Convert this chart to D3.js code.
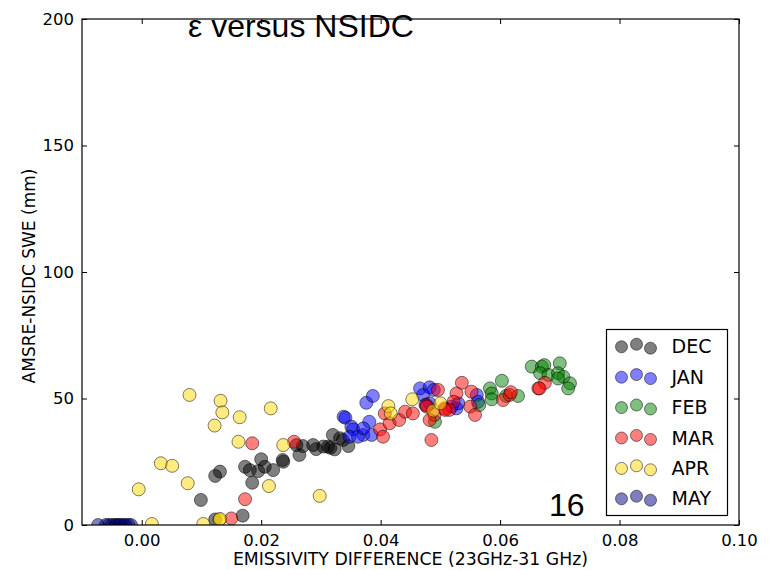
<!DOCTYPE html>
<html>
<head>
	<meta charset="utf-8">
	<script src="https://cdnjs.cloudflare.com/ajax/libs/d3/7.8.5/d3.min.js"></script>
	<style>
	body {
		margin: 0;
		background: #fff;
	}

	.tick-label {
		font: 16.5px "DejaVu Sans", sans-serif;
		fill: #000;
	}

	.dot {
		fill-opacity: 0.5;
		stroke: #000;
		stroke-opacity: 0.5;
		stroke-width: 1px;
	}
</style>
</head>
<body>
	<svg width="771" height="570"></svg>
	<script>
	//data: [emissivity difference, swe]
	let decData = [
		[0.0099, 9.9], [0.0131, 21.1], [0.0123, 19.4], [0.0123, 2.2], [0.0169, 3.7],
		[0.0173, 23.0], [0.0181, 21.7], [0.0195, 21.3], [0.0200, 26.0], [0.0206, 23.0],
		[0.0220, 21.7], [0.0185, 16.7], [0.0237, 25.0], [0.0236, 25.7], [0.0264, 27.7],
		[0.0270, 31.2], [0.0287, 31.6], [0.0304, 31.0], [0.0312, 31.0], [0.0323, 29.9],
		[0.0320, 35.6], [0.0337, 33.6], [0.0346, 31.2], [0.0259, 31.6], [0.0292, 30.0],
		[0.0316, 30.5], [0.0332, 34.3]
	];
	let janData = [
		[0.0338, 42.8], [0.0341, 42.4], [0.0351, 38.9], [0.0354, 37.8], [0.0348, 34.9],
		[0.0371, 35.6], [0.0381, 40.8], [0.0385, 35.6], [0.0376, 48.3], [0.0387, 51.0],
		[0.0466, 54.0], [0.0482, 54.4], [0.0471, 51.4], [0.0482, 48.1], [0.0489, 53.4],
		[0.0527, 46.1], [0.0561, 51.4], [0.0563, 48.7], [0.0475, 47.5], [0.0362, 34.9],
		[0.0371, 38.2], [0.0519, 46.8], [0.0530, 48.1]
	];
	let febData = [
		[0.0583, 54.0], [0.0603, 57.0], [0.0586, 52.0], [0.0586, 49.7], [0.0630, 51.0],
		[0.0653, 62.6], [0.0670, 62.6], [0.0674, 63.2], [0.0667, 60.0], [0.0681, 59.3],
		[0.0700, 63.9], [0.0697, 60.0], [0.0706, 58.6], [0.0697, 57.9], [0.0717, 56.0],
		[0.0714, 54.0], [0.0491, 40.8], [0.0565, 47.4], [0.0610, 51.0]
	];
	let marData = [
		[0.0185, 32.3], [0.0173, 10.2], [0.0150, 2.6], [0.0255, 32.9], [0.0399, 37.8],
		[0.0404, 34.9], [0.0407, 44.1], [0.0415, 40.2], [0.0431, 41.5], [0.0441, 44.8],
		[0.0454, 44.1], [0.0477, 47.4], [0.0496, 53.4], [0.0485, 33.6], [0.0490, 43.5],
		[0.0507, 46.1], [0.0536, 56.2], [0.0552, 52.7], [0.0550, 46.8], [0.0558, 43.5],
		[0.0527, 52.0], [0.0522, 48.7], [0.0515, 45.5], [0.0508, 45.5], [0.0477, 46.8],
		[0.0482, 41.5], [0.0605, 49.4], [0.0616, 51.4], [0.0664, 54.0], [0.0675, 56.2],
		[0.0666, 54.0], [0.0618, 52.5]
	];
	let aprData = [
		[0.0080, 51.4], [0.0132, 49.1], [0.0135, 44.5], [0.0122, 39.3], [0.0032, 24.4],
		[0.0051, 23.4], [0.0077, 16.5], [-0.0005, 14.1], [0.0017, 0.4], [0.0103, 0.4],
		[0.0130, 2.0], [0.0164, 42.6], [0.0216, 46.1], [0.0162, 32.9], [0.0237, 31.6],
		[0.0213, 15.4], [0.0298, 11.5], [0.0131, 2.4], [0.0413, 47.0], [0.0417, 44.1],
		[0.0453, 49.7], [0.0488, 45.2], [0.0500, 48.1]
	];
	let mayData = [
		[-0.0073, 0], [-0.0060, 0], [-0.0055, 0], [-0.0050, 0], [-0.0045, 0],
		[-0.0042, 0], [-0.0038, 0], [-0.0035, 0], [-0.0030, 0], [-0.0027, 0],
		[-0.0022, 0], [-0.0018, 0]
	];

	let months = ["DEC", "JAN", "FEB", "MAR", "APR", "MAY"];
	let monthColors = ["#000000", "#0000ff", "#008000", "#ff0000", "#ffd700", "#000080"];
	let xTicks = [0.00, 0.02, 0.04, 0.06, 0.08, 0.10];
	let yTicks = [0, 50, 100, 150, 200];

	let series = [decData, janData, febData, marData, aprData, mayData];

	//define chart margins
	let svg = d3.select("svg"),
		margin = {top: 19, right: 32, bottom: 45, left: 82},
		width = svg.attr("width") - margin.left - margin.right,
		height = svg.attr("height") - margin.top - margin.bottom,
		g = svg.append("g").attr("transform", "translate(" + margin.left + "," + margin.top + ")");

	//define scales
	let x = d3.scaleLinear().domain([-0.01, 0.10]).range([0, width]),
		y = d3.scaleLinear().domain([0, 200]).range([height, 0]);

	//clip markers to the axes box
	svg.append("defs").append("clipPath")
		.attr("id", "plot-clip")
		.append("rect")
		.attr("width", width)
		.attr("height", height);

	//append scatter points, month by month
	let dots = g.append("g").attr("clip-path", "url(#plot-clip)");
	series.forEach(function(data, i) {
		dots.selectAll(".dot-" + i)
			.data(data)
			.enter()
			.append("circle")
			.attr("class", "dot dot-" + i)
			.attr("cx", function(d) { return x(d[0]); })
			.attr("cy", function(d) { return y(d[1]); })
			.attr("r", 6.5)
			.style("fill", monthColors[i]);
	});

	//append axes, ticks pointing inward on all four sides
	let tickLen = 5;
	g.append("g")
		.attr("transform", "translate(0," + height + ")")
		.call(d3.axisBottom(x).tickValues(xTicks).tickSizeInner(-tickLen).tickSizeOuter(0).tickPadding(9).tickFormat(d3.format(".2f")))
		.call(styleAxis);
	g.append("g")
		.call(d3.axisTop(x).tickValues(xTicks).tickSizeInner(-tickLen).tickSizeOuter(0).tickFormat(""))
		.call(styleAxis);
	g.append("g")
		.call(d3.axisLeft(y).tickValues(yTicks).tickSizeInner(-tickLen).tickSizeOuter(0).tickPadding(8))
		.call(styleAxis);
	g.append("g")
		.attr("transform", "translate(" + width + ",0)")
		.call(d3.axisRight(y).tickValues(yTicks).tickSizeInner(-tickLen).tickSizeOuter(0).tickFormat(""))
		.call(styleAxis);

	function styleAxis(sel) {
		sel.select(".domain").remove();
		sel.selectAll("line").attr("stroke", "#000");
		sel.selectAll("text").attr("class", "tick-label").attr("fill", "#000");
	}

	//axes frame
	g.append("rect")
		.attr("width", width)
		.attr("height", height)
		.attr("fill", "none")
		.attr("stroke", "#000")
		.attr("stroke-width", 1.2);

	//axis labels
	svg.append("text")
		.attr("x", margin.left + width / 2)
		.attr("y", 565)
		.attr("text-anchor", "middle")
		.style("font", "17.3px 'DejaVu Sans', sans-serif")
		.text("EMISSIVITY DIFFERENCE (23GHz-31 GHz)");
	svg.append("text")
		.attr("transform", "translate(35," + (margin.top + height / 2 + 4) + ") rotate(-90)")
		.attr("text-anchor", "middle")
		.style("font", "17px 'DejaVu Sans', sans-serif")
		.text("AMSRE-NSIDC SWE (mm)");

	//legend
	let legend = g.append("g").attr("transform", "translate(" + (606.5 - margin.left) + "," + (329.5 - margin.top) + ")");
	legend.append("rect")
		.attr("width", 121)
		.attr("height", 186)
		.attr("fill", "#fff")
		.attr("stroke", "#000")
		.attr("stroke-width", 1.2);
	let rowY = d3.scalePoint().domain(months).range([17, 169]);
	let symbolDx = [15, 30, 44],
		symbolDy = [0.3, -2.3, 1.7];
	let entry = legend.selectAll(".entry")
		.data(months)
		.enter()
		.append("g")
		.attr("class", "entry")
		.attr("transform", function(d) { return "translate(0," + rowY(d) + ")"; });
	symbolDx.forEach(function(dx, k) {
		entry.append("circle")
			.attr("class", "dot")
			.attr("cx", dx)
			.attr("cy", symbolDy[k])
			.attr("r", 6)
			.style("fill", function(d, i) { return monthColors[i]; });
	});
	entry.append("text")
		.attr("x", 65)
		.attr("dy", "0.36em")
		.style("font", "19px 'DejaVu Sans', sans-serif")
		.text(function(d) { return d; });

	//title and panel number
	svg.append("text")
		.attr("x", 188)
		.attr("y", 37)
		.style("font", "32px 'Liberation Sans', Arial, sans-serif")
		.text("ε versus NSIDC");
	svg.append("text")
		.attr("x", 549)
		.attr("y", 516)
		.style("font", "32px 'Liberation Sans', Arial, sans-serif")
		.text("16");
	</script>
</body>
</html>
